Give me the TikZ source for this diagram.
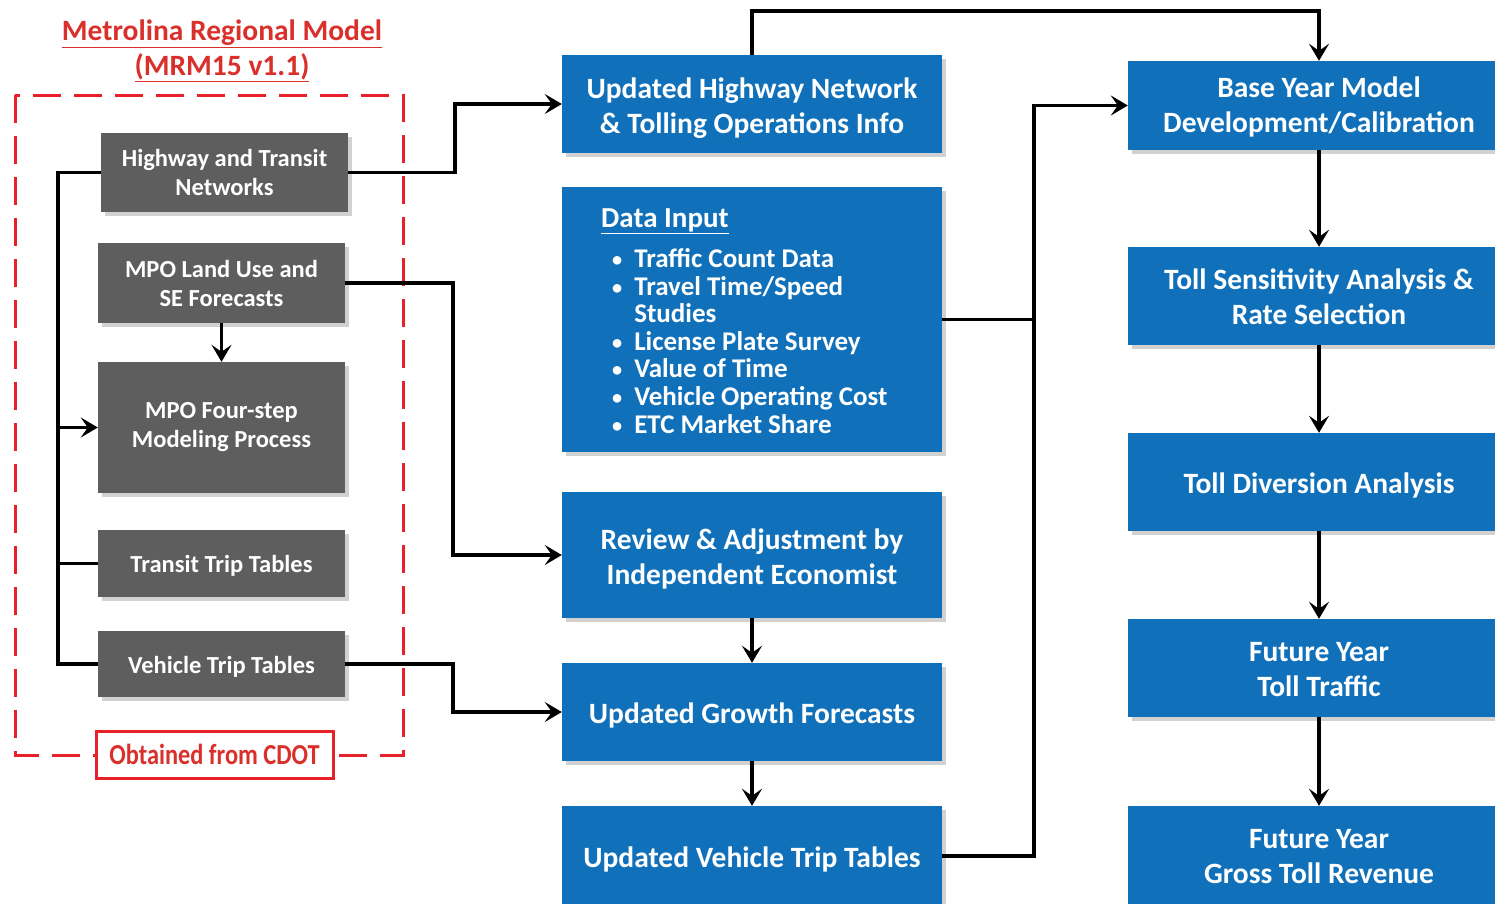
\documentclass[tikz,border=0pt]{standalone}
\usepackage{fontspec}
\setmainfont{Carlito}
\newfontfamily\narrowfont[FakeStretch=0.84]{Carlito}
\usetikzlibrary{arrows.meta,shadows}
\definecolor{flowblue}{HTML}{1071BA}
\definecolor{boxgray}{HTML}{5E5E5E}
\definecolor{dashred}{HTML}{E8202A}
\definecolor{titlered}{HTML}{D9302B}
\newcommand{\smallbullet}{\raisebox{1pt}{\scalebox{0.75}{\textbullet}}}
\tikzset{
  shade/.style={drop shadow={shadow xshift=4pt,shadow yshift=-4pt,opacity=0.3,fill=black!60}},
  graybox/.style={shade,fill=boxgray,text=white,align=center,inner sep=0pt,
    font=\bfseries\fontsize{24.5}{29}\selectfont,minimum width=247pt},
  bluebox/.style={shade,fill=flowblue,text=white,align=center,inner sep=0pt,
    font=\bfseries\fontsize{29.5}{35}\selectfont,minimum width=380pt},
  rightbox/.style={bluebox,minimum width=382pt},
  link/.style={line width=3.6pt,draw=black},
  arr/.style={link,-{Stealth[length=17pt,width=20pt,inset=7pt]}},
}
% tall struts that lower the text block of a blue box a little
\newcommand{\topstrut}{\rule{0pt}{28pt}}
\newcommand{\midstrut}{\rule{0pt}{23pt}}
\begin{document}
\begin{tikzpicture}[x=1pt,y=-1pt]
\path[use as bounding box] (0,0) rectangle (1495,903);

% title of the regional model
\node[text=titlered,font=\bfseries\fontsize{29.5}{35}\selectfont,align=center] (title)
  at (222,51) {\underline{Metrolina Regional Model}\\\underline{(MRM15 v1.1)}};

% dashed frame around the model inputs
\draw[dashred,line width=3pt,dash pattern=on 28pt off 13pt] (15,95) rectangle (403,755);
\node[draw=dashred,line width=3pt,fill=white,text=titlered,
  font=\narrowfont\bfseries\fontsize{29}{32}\selectfont,
  minimum width=237pt,minimum height=47pt,inner sep=0pt] (cdot) at (214.5,754.5) {Obtained from CDOT};

% gray model boxes
\node[graybox,minimum width=247pt,minimum height=79pt] (htn) at (224.5,172.5) {Highway and Transit\\Networks};
\node[graybox,minimum height=80pt] (lu) at (221.5,283) {MPO Land Use and\\SE Forecasts};
\node[graybox,minimum height=131pt] (four) at (221.5,427.5) {MPO Four-step\\Modeling Process};
\node[graybox,minimum height=67pt] (ttt) at (221.5,563.5) {\rule{0pt}{22pt}Transit Trip Tables};
\node[graybox,minimum height=66pt] (vtt) at (221.5,664) {\rule{0pt}{22pt}Vehicle Trip Tables};

% middle column
\node[bluebox,minimum height=98pt] (uhn) at (752,104) {\topstrut Updated Highway Network\\\& Tolling Operations Info};
\node[bluebox,minimum height=265pt] (din) at (752,319.5) {};
\node[text=white,font=\bfseries\fontsize{29}{32}\selectfont,anchor=west,inner sep=0pt] (dhead)
  at (601,221) {\underline{Data Input}};
\node[text=white,font=\bfseries\fontsize{27}{27.6}\selectfont,anchor=north west,inner sep=0pt,align=left] (dlist)
  at (612,248) {\begin{tabular}{@{}l@{\hspace{12pt}}l@{}}
  \smallbullet & Traffic Count Data\\
  \smallbullet & Travel Time/Speed\\
               & Studies\\
  \smallbullet & License Plate Survey\\
  \smallbullet & Value of Time\\
  \smallbullet & Vehicle Operating Cost\\
  \smallbullet & ETC Market Share
  \end{tabular}};
\node[bluebox,minimum height=126pt] (rev) at (752,555) {\topstrut Review \& Adjustment by\\Independent Economist};
\node[bluebox,minimum height=98pt] (ugf) at (752,712) {\topstrut Updated Growth Forecasts};
\node[bluebox,minimum height=100pt] (uvtt) at (752,856) {\topstrut Updated Vehicle Trip Tables};

% right column
\node[rightbox,minimum height=89pt] (base) at (1319,105.5) {\midstrut Base Year Model\\Development/Calibration};
\node[rightbox,minimum height=98pt] (sens) at (1319,296) {\midstrut Toll Sensitivity Analysis \&\\Rate Selection};
\node[rightbox,minimum height=98pt] (div) at (1319,482) {\topstrut Toll Diversion Analysis};
\node[rightbox,minimum height=98pt] (fyt) at (1319,668) {\midstrut Future Year\\Toll Traffic};
\node[rightbox,minimum height=98pt] (fyr) at (1319,855) {\midstrut Future Year\\Gross Toll Revenue};

% junction points of the elbow connectors
\coordinate (bus) at (58,400);
\coordinate (j1) at (455,140);
\coordinate (j2) at (453,400);
\coordinate (j3) at (453,690);
\coordinate (j4) at (1000,11);
\coordinate (j5) at (1034,500);

% connectors
\draw[link] (htn.west) -| (bus) |- (vtt.west);
\draw[link] (ttt.west) -- (ttt.west -| bus);
\draw[arr] (four.west -| bus) -- (four.west);
\draw[arr] (lu.south) -- (four.north);
\draw[arr] (htn.east) -| (j1) |- (uhn.west);
\draw[arr] (lu.east) -| (j2) |- (rev.west);
\draw[arr] (vtt.east) -| (j3) |- (ugf.west);
\draw[arr] (rev.south) -- (ugf.north);
\draw[arr] (ugf.south) -- (uvtt.north);
\draw[arr] (uhn.north) |- (j4) -| (base.north);
\draw[link] (din.east) -- (din.east -| j5);
\draw[arr] (uvtt.east) -| (j5) |- (base.west);
\draw[arr] (base.south) -- (sens.north);
\draw[arr] (sens.south) -- (div.north);
\draw[arr] (div.south) -- (fyt.north);
\draw[arr] (fyt.south) -- (fyr.north);
\end{tikzpicture}
\end{document}
